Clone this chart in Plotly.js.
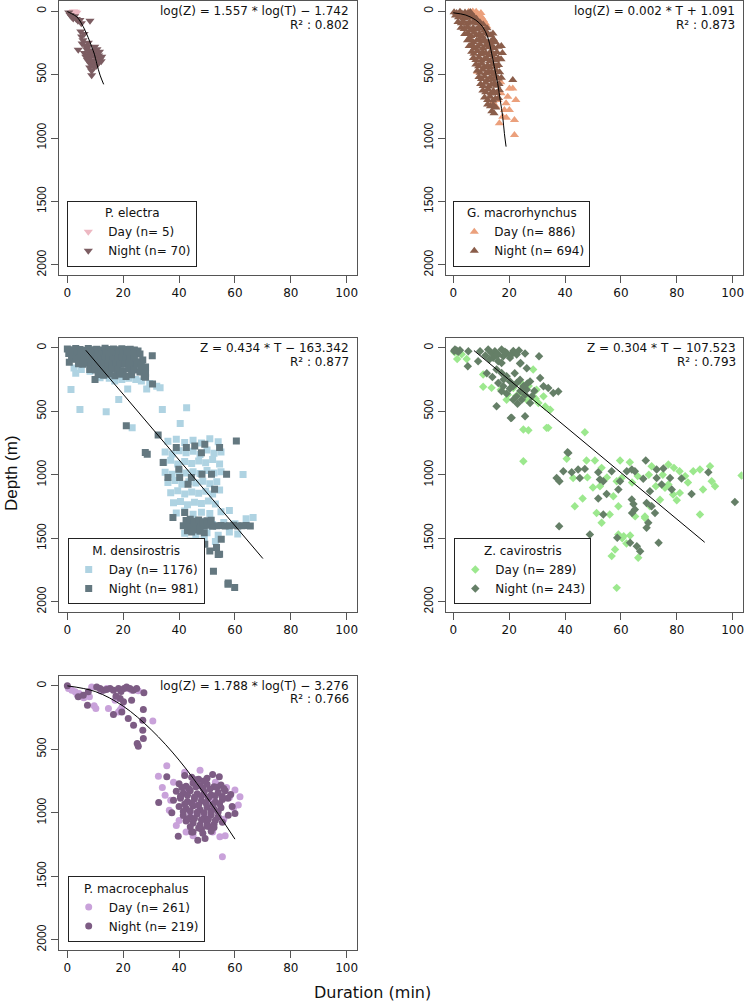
<!DOCTYPE html>
<html>
<head>
<meta charset="utf-8">
<script src="https://cdn.plot.ly/plotly-3.0.1.min.js"></script>
<style>html,body{margin:0;padding:0;background:#fff;}#chart{width:745px;height:1008px;}</style>
</head>
<body>
<div id="chart"></div>
<script>
// ---------- tick labels ----------
const xTicks = [0, 20, 40, 60, 80, 100];
const yTicks = [0, 500, 1000, 1500, 2000];

// ---------- P. electra ----------
const peDayT = [1.6, 2.2, 2.9, 3.4, 2.5];
const peDayZ = [8, 2, 4, 12, 22];
const peNightT = [0.5,1.0,1.5,2.1,2.6,3.2,3.8,4.5,5.0,8.1,4.8,5.1,5.6,6.0,5.3,3.9,6.4,6.9,7.3,6.1,7.0,7.6,8.1,8.5,9.0,9.4,9.9,10.3,10.8,11.2,11.7,12.1,7.8,8.4,9.1,9.7,10.4,8.0,8.7,9.5,8.7,11.0,6.6,7.2,10.6,11.5,12.3,9.8,7.5];
const peNightZ = [10,30,45,58,40,62,75,70,95,75,160,200,230,180,255,305,270,300,280,330,350,320,370,340,310,330,360,340,375,350,380,395,400,420,390,415,430,445,470,440,505,410,360,385,300,320,360,280,250];
const peFitT = [0, 1.5, 3.4, 5, 6.3, 7.5, 8.7, 9.7, 10.5, 11.7, 13.0];
const peFitZ = [3, 20, 45, 95, 150, 210, 281, 340, 412, 504, 577];

// ---------- G. macrorhynchus ----------
const gmDayT = [5.5,6.8,7.9,8.9,9.6,10.2,10.8,11.5,8.2,9.9,12.0,7.0,8.7,21.3,22.4,19.5,20.1,17.7,16.5,21.9,21.9,18.3,18.9,17.1,15.3,20.1,16.0,19.0,14.2,17.0];
const gmDayZ = [5,10,15,25,35,50,70,95,5,15,120,3,478,609,701,675,780,832,884,858,976,780,727,648,753,609,700,840,720,560];
const gmNightT = [0.3,1.2,2.4,3.1,4.2,5.3,6.1,
  0.8,1.9,2.7,3.8,4.6,5.7,6.6,7.4,8.3,
  1.7,2.9,3.6,4.9,5.8,6.9,7.7,8.8,9.6,10.7,
  2.8,3.9,5.1,6.2,7.1,8.2,9.1,10.2,11.3,12.1,
  4.1,5.2,6.3,7.4,8.3,9.4,10.3,11.4,12.6,13.4,14.2,
  5.1,6.3,7.2,8.4,9.3,10.4,11.2,12.3,13.6,14.4,15.1,
  5.7,6.8,7.6,8.7,9.6,10.6,11.7,12.8,13.7,14.6,16.1,17.2,
  6.6,7.4,8.6,9.7,10.5,11.6,12.7,13.4,14.5,15.6,17.6,
  7.2,8.1,9.2,10.1,11.2,12.2,13.1,14.3,15.2,16.1,17.1,
  8.1,9.1,10.2,11.1,12.3,13.2,14.1,15.3,16.2,
  8.6,9.6,10.6,11.7,12.6,13.7,14.6,15.4,16.6,
  9.2,10.1,11.2,12.1,13.2,14.1,15.2,16.1,17.2,21.3,
  9.8,10.7,11.6,12.7,13.6,14.7,15.6,16.4,
  10.6,11.6,12.5,13.5,14.4,15.5,16.5,
  11.2,12.3,13.2,14.2,15.1,16.2,
  12.3,13.3,14.3,15.2,13.8,14.6];
const gmNightZ = [8,15,5,18,10,14,6,
  35,48,30,55,40,52,38,45,60,
  85,95,80,100,88,92,84,97,90,105,
  130,140,125,148,132,145,128,138,150,135,
  180,175,195,170,188,178,198,172,185,190,176,
  230,225,245,232,220,240,228,250,235,222,245,
  275,268,290,280,262,295,272,285,270,290,280,275,
  320,335,315,340,325,330,345,318,338,325,330,
  370,385,365,392,375,380,395,368,388,372,380,
  420,435,415,440,428,445,418,432,425,
  470,485,462,490,475,480,495,468,482,
  520,535,515,545,525,540,518,530,525,543,
  575,590,565,595,580,570,588,575,
  625,640,618,650,630,645,622,
  680,700,675,705,690,685,
  735,750,740,760,790,805];
const gmFitT = [0, 4.5, 8.1, 10.5, 12.3, 13.5, 14.7, 15.9, 16.8, 17.7, 18.3, 18.9];
const gmFitZ = [13, 31, 71, 123, 202, 307, 438, 570, 701, 832, 963, 1068];

// ---------- M. densirostris ----------
const mdDayT = [2.4,1.3,4.5,13.9,18.4,21.6,23.2,28.4,32,33.2,34,42.7,40.4,11.7,8.1,15,17,19.5,22,24.5,26.5,5,3,13,29.5,
  36,39,42,45,48,51,54,
  35,37.5,40,42.5,45,47.5,50,52.5,55,
  34.5,37,39.5,42,44.5,47,49.5,52,54.5,
  35,37.5,40,42.5,45,47.5,50,52.5,55,62.9,
  36,38.5,41,43.5,46,48.5,51,53.5,
  37,39.5,42,44.5,47,49.5,52,54.5,
  38,40.5,43,45.5,48,50.5,53,
  39,42,45,48,51,55,58,
  43.5,48,52,56,60,64,66.5,
  42,46,50,54,58,61,
  44,49,53];
const mdDayZ = [158,328,486,503,407,323,630,323,302,315,486,472,596,236,184,240,260,250,240,250,260,170,200,220,280,
  735,720,745,728,750,715,740,
  820,835,810,825,815,840,805,830,820,
  900,885,915,895,910,890,905,880,915,
  980,995,970,985,975,990,965,985,975,997,
  1060,1045,1075,1055,1065,1050,1070,1055,
  1140,1125,1150,1135,1145,1130,1150,1120,
  1220,1210,1235,1215,1225,1205,1230,
  1300,1285,1310,1295,1305,1290,1280,
  1380,1370,1390,1375,1385,1345,1336,
  1460,1470,1455,1475,1450,1465,
  1520,1510,1525];
const mdNightT = [0,1.5,3,4.5,6,7.5,9,10.5,12,13.5,15,16.5,18,19.5,21,22.5,24,25.3,
  0.5,2,3.5,5,6.5,8,9.5,11,12.5,14,15.5,17,18.5,20,21.5,23,24.5,26,
  1.5,3,4.5,6,7.5,9,10.5,12,13.5,15,16.5,18,19.5,21,22.5,24,25.5,27,
  4,5.5,7,8.5,10,11.5,13,14.5,16,17.5,19,20.5,22,23.5,25,26.5,28,
  8,10,12,14,16,18,20,22,24,26,28,
  11,13,15,17,19,21,23,27.5,
  0.7,30.4,28,30.5,9.9,21.1,32.5,27.9,28.6,
  34.3,36.0,39.0,39.9,40.2,42.6,44.4,45.6,48.0,49.2,48.2,51.6,52.7,54.5,57.0,60.5,43.2,
  41.5,43,44.5,46,47.5,49,50.5,52,53.5,55,56.5,58,59.5,61,62.5,64,65.5,
  42.5,44,45.5,47,48.5,50,51.5,43,44.5,46,47.5,49,
  37.8,42.0,45.6,49.2,51,53.4,55.1,54.5,45.6,57.5,59.9,52.3,54.0,57.6];
const mdNightZ = [8,15,5,12,18,6,14,10,16,4,12,9,15,7,13,10,16,24,
  45,40,52,38,48,42,55,44,50,40,47,53,41,49,45,52,43,48,
  85,90,80,92,84,88,78,95,86,82,91,85,80,94,87,83,110,95,
  125,130,120,135,128,122,132,126,138,124,130,128,121,135,127,140,150,
  170,175,165,178,168,172,180,166,175,190,200,
  210,215,205,220,208,225,212,225,
  113,63,231,284,250,614,686,824,838,
  903,1021,785,956,1021,785,1021,772,825,759,995,995,1113,785,995,733,1074,
  1400,1395,1405,1398,1402,1400,1396,1404,1400,1398,1402,1400,1397,1403,1400,1398,1402,
  1360,1350,1365,1355,1370,1362,1358,1440,1450,1435,1445,1455,
  1336,1297,1533,1546,1599,1572,1507,1625,1704,1861,1888,1759,1627,1851];
const mdFitT = [6.6, 70];
const mdFitZ = [19, 1659];

// ---------- Z. cavirostris ----------
const zcDayT = [1.4,4.8,10.7,10.7,13.7,19.1,25.1,28.6,34.0,25.1,47.1,21.5,23.9,26.3,28.6,30.5,32.9,34.7,32.3,29.8,27.0,24.5,26.9,33.4,0.5,3.0,17.0,19.5,22.5,25.5,29.5,
  40.6,47.7,50.7,53.1,59.7,63.2,71.0,77.0,79.0,81.0,85.9,88.3,91.9,92.5,93.7,103.2,89.4,88.3,78.7,81.1,75.8,72.5,58.5,60.3,46.3,43.5,56.0,59.1,53.1,68.6,59.1,61.0,63.3,60.5,62.0,57.9,56.7,58.5,42.9,52.5,57.3,66.0,70.0,75.0,83.0,84.0,77.0,80.0,74.0,70.4,68.6,65.1,50.0,48.0,55.0,64.0,66.2,51.3];
const zcDayZ = [87,87,210,307,315,408,643,171,630,893,664,316,356,408,382,435,461,487,382,330,300,280,648,630,35,50,330,370,380,380,400,
  874,887,887,945,887,900,932,919,945,971,971,958,932,1050,1089,1005,1115,1312,1155,1142,1102,1090,1050,1024,1186,1247,1312,1247,1378,1339,1470,1483,1478,1500,1540,1588,1640,1890,1024,1089,1168,1010,1000,1000,1010,1060,1076,1200,1196,1248,1327,1327,1100,1020,1020,1060,1653,1301];
const zcNightT = [0.6,1.2,2.4,1.8,0.3,5.4,9.6,12.5,13.7,14.9,16.1,17.3,17.9,19.1,20.3,22.7,25.7,16.1,14.3,17.3,11.5,13.0,15.5,18.5,21.5,20.5,23.5,
  15.5,17.3,19.1,20.3,22.7,23.9,25.1,26.3,27.5,17.9,16.1,20.3,22.7,24.5,25.7,28.1,21.5,17.3,19.1,27.5,24.1,26.3,31.1,32.3,34.0,35.8,37.6,30.7,23.9,5.2,8.9,15.5,20.6,25.7,20.9,14.0,18.0,21.5,24.0,26.5,29.0,22.0,12.0,23.0,
  41.2,37.0,38.0,39.4,42.4,44.7,45.3,47.1,51.9,52.5,53.7,51.9,54.9,59.1,56.7,62.1,63.9,65.0,68.9,68.0,72.8,75.2,72.8,70.4,74.6,77.6,78.2,81.7,85.3,91.3,100.8,59.7,63.9,64.5,65.0,64.0,69.2,71.0,72.2,69.8,69.2,53.7,37.9,48.9,58.7,63.3,65.7,66.9,73.5,44.1,40.9];
const zcNightZ = [13,20,19,30,25,27,27,13,40,27,53,13,66,40,79,53,45,106,79,119,60,90,55,30,25,60,20,
  171,198,224,264,277,251,303,329,264,303,277,320,382,408,369,382,408,342,360,435,119,160,238,303,316,356,343,66,124,145,106,460,552,539,551,230,250,300,340,280,340,200,200,440,
  827,1024,1050,971,979,958,1024,953,979,1037,1050,1186,1150,1115,971,971,958,971,887,1031,958,950,1024,1129,1076,1024,1115,1029,1150,979,1213,1050,1194,1230,1273,1300,1221,1247,1300,1378,1417,1312,1404,1470,1496,1535,1562,1601,1535,1601,822];
const zcFitT = [7.4, 90];
const zcFitZ = [21, 1531];

// ---------- P. macrocephalus ----------
const pmDayT = [0.4,1.6,2.8,4.2,5.9,7.9,9.6,10.2,14.1,14.7,18.9,17.1,21.8,23.0,25.4,30.6,18.3,19.5,8.7,3.5,12.0,
  35.6,32.6,35.0,61.8,61.2,55.5,42.5,54.6,47.5,38.0,36.5,40.0,58.0,59.5,56.0,45.0,52.0,43.0,48.0,37.0,60.0,57.0,34.0,39.0,50.0,53.0,42.0,56.5,46.0,44.0,51.0,49.0];
const pmDayZ = [21,34,47,60,94,86,157,178,21,178,191,113,21,34,39,276,205,171,8,70,40,
  630,712,861,874,939,1346,1150,1189,664,760,980,1060,880,960,1050,1180,1150,820,870,900,820,800,800,1100,1080,760,680,1180,940,1000,900,1020];
const pmNightT = [0,3.9,7.2,10.5,11.7,15.3,16.5,18.3,19.2,20.3,23.6,24.8,27.4,16.5,20.1,23.0,21.8,23.7,27.2,27.0,27.0,27.2,25.0,25.4,5.7,7.5,12.9,14.0,18.9,19.5,21.2,22.4,17.4,
  42,44.5,47,52,54.4,50,
  40,42.5,45,47.5,50,52.5,55,
  39,41.5,44,46.5,49,51.5,54,56.5,58.5,
  38,40.5,43,45.5,48,50.5,53,55.5,57.5,32.7,
  40,42.5,45,47.5,50,52.5,55,59,
  37.4,41.5,44,46.5,49,51.5,54,57.6,60,
  42.5,45,47.5,50,52.5,55.5,
  39.7,46.7,49.3,51,44.5,48,35.6,
  41,43.5,46,48.5,51,53.5,56,
  40.5,43,45.5,48,50.5,53,55.5,
  42,44.5,47,49.5,52,54.5,
  41.5,44,46.5,49,51.5,54,
  43,45.5,48,50.5,53,
  44,47,50,52.5,
  45,48.5,51.5,
  46,49];
const pmNightZ = [0,86,152,8,21,21,34,21,45,21,34,21,55,226,126,113,257,310,186,270,349,414,454,475,73,47,34,28,100,205,8,21,81,
  705,720,735,698,716,728,
  770,790,765,785,775,795,780,
  830,845,825,850,835,860,840,825,855,
  900,885,910,890,905,880,915,895,885,918,
  950,965,945,975,955,970,960,950,
  1000,1020,1035,1010,1040,1015,1030,1018,1005,
  1065,1080,1095,1070,1090,1075,
  1184,1215,1202,1110,1150,1130,716,
  800,810,795,805,812,798,808,
  870,862,875,868,880,865,872,
  930,925,938,920,935,928,
  990,985,995,1000,988,992,
  1050,1045,1055,1048,1058,
  1110,1120,1105,1115,
  1150,1160,1145,
  740,750];
const pmFitT = [0, 10, 20, 30, 40, 50, 60];
const pmFitZ = [0, 45, 160, 345, 585, 880, 1207];

// ---------- panel definitions ----------
const panels = [
  {name:'P. electra', sym:'triangle-down', size:8,
   day:[peDayT,peDayZ], night:[peNightT,peNightZ], fit:[peFitT,peFitZ],
   dayCol:'#EDB8C2', nightCol:'#7C5D62', dayN:5, nightN:70,
   eq:'log(Z) = 1.557 * log(T) − 1.742', r2:'R² : 0.802'},
  {name:'G. macrorhynchus', sym:'triangle-up', size:8,
   day:[gmDayT,gmDayZ], night:[gmNightT,gmNightZ], fit:[gmFitT,gmFitZ],
   dayCol:'#EBA07C', nightCol:'#8A5D4A', dayN:886, nightN:694,
   eq:'log(Z) = 0.002 * T + 1.091', r2:'R² : 0.873'},
  {name:'M. densirostris', sym:'square', size:7,
   day:[mdDayT,mdDayZ], night:[mdNightT,mdNightZ], fit:[mdFitT,mdFitZ],
   dayCol:'#AFD3E2', nightCol:'#647880', dayN:1176, nightN:981,
   eq:'Z = 0.434 * T − 163.342', r2:'R² : 0.877'},
  {name:'Z. cavirostris', sym:'diamond', size:6.5,
   day:[zcDayT,zcDayZ], night:[zcNightT,zcNightZ], fit:[zcFitT,zcFitZ],
   dayCol:'#9CE88E', nightCol:'#657F67', dayN:289, nightN:243,
   eq:'Z = 0.304 * T − 107.523', r2:'R² : 0.793'},
  {name:'P. macrocephalus', sym:'circle', size:7,
   day:[pmDayT,pmDayZ], night:[pmNightT,pmNightZ], fit:[pmFitT,pmFitZ],
   dayCol:'#C9A2DA', nightCol:'#7D5C84', dayN:261, nightN:219,
   eq:'log(Z) = 1.788 * log(T) − 3.276', r2:'R² : 0.766'}
];

// layout geometry (pixels in a 745 x 1008 figure)
const W = 745, H = 1008;
const boxes = [
  {x0:58.7, x1:357.3, y0:1,     y1:275,   xr:[-3.1,103.8]},
  {x0:446,  x1:742.7, y0:1,     y1:275,   xr:[-2.6,103.6]},
  {x0:58.7, x1:357.3, y0:337.7, y1:612,   xr:[-3.1,103.8]},
  {x0:446,  x1:742.7, y0:337.7, y1:612,   xr:[-2.6,103.6]},
  {x0:58.7, x1:357.3, y0:675.7, y1:950,   xr:[-3.1,103.8]}
];
const eqPos = [
  {x:351, y1:11, y2:24.5}, {x:736.7, y1:11, y2:24.5},
  {x:351, y1:348.3, y2:361.8}, {x:737.7, y1:348.3, y2:361.8},
  {x:351, y1:685.7, y2:699.2}
];
const legPos = [
  {x:67.3, y:200.7}, {x:453.3, y:200.7}, {x:67.7, y:538.3}, {x:454.3, y:538.3}, {x:67.7, y:876}
];

const HFONT = 'DejaVu Sans, Liberation Sans, Arial, sans-serif';
const VFONT = 'Liberation Sans, Arial, sans-serif';

const traces = [];
const layout = {
  width: W, height: H, autosize: false,
  margin: {l:0, r:0, t:0, b:0, pad:0},
  paper_bgcolor: '#fff', plot_bgcolor: '#fff',
  showlegend: true,
  annotations: [],
  font: {family: HFONT, size: 12, color: '#111'}
};

panels.forEach((p, i) => {
  const k = i + 1;
  const xa = k === 1 ? 'x' : 'x' + k;
  const ya = k === 1 ? 'y' : 'y' + k;
  const legName = k === 1 ? 'legend' : 'legend' + k;
  traces.push({
    type:'scatter', mode:'markers', x:p.day[0], y:p.day[1], xaxis:xa, yaxis:ya,
    name:'Day (n= ' + p.dayN + ')', legend:legName,
    marker:{symbol:p.sym, size:p.size, color:p.dayCol, line:{width:0}},
    hoverinfo:'skip', cliponaxis:true
  });
  traces.push({
    type:'scatter', mode:'markers', x:p.night[0], y:p.night[1], xaxis:xa, yaxis:ya,
    name:'Night (n= ' + p.nightN + ')', legend:legName,
    marker:{symbol:p.sym, size:p.size, color:p.nightCol, line:{width:0}},
    hoverinfo:'skip', cliponaxis:true
  });
  traces.push({
    type:'scatter', mode:'lines', x:p.fit[0], y:p.fit[1], xaxis:xa, yaxis:ya,
    line:{color:'#000', width:1, shape: p.fit[0].length > 2 ? 'spline' : 'linear'},
    showlegend:false, hoverinfo:'skip'
  });

  const b = boxes[i];
  const axX = {
    domain:[b.x0 / W, b.x1 / W], range:b.xr, anchor:ya,
    tickmode:'array', tickvals:xTicks, ticktext:xTicks.map(String),
    ticks:'outside', ticklen:7, tickwidth:1, tickcolor:'#555',
    showline:true, mirror:true, linecolor:'#555', linewidth:1,
    showgrid:false, zeroline:false, fixedrange:true,
    tickfont:{family:HFONT, size:12, color:'#111'}
  };
  const axY = {
    domain:[1 - b.y1 / H, 1 - b.y0 / H], range:[2080, -80], anchor:xa,
    tickmode:'array', tickvals:yTicks, ticktext:yTicks.map(String),
    ticks:'outside', ticklen:7, tickwidth:1, tickcolor:'#555', tickangle:-90,
    showline:true, mirror:true, linecolor:'#555', linewidth:1,
    showgrid:false, zeroline:false, fixedrange:true,
    tickfont:{family:VFONT, size:12, color:'#111'}
  };
  layout[k === 1 ? 'xaxis' : 'xaxis' + k] = axX;
  layout[k === 1 ? 'yaxis' : 'yaxis' + k] = axY;

  const lp = legPos[i];
  layout[legName] = {
    x: lp.x / W, y: 1 - lp.y / H, xanchor:'left', yanchor:'top',
    xref:'paper', yref:'paper',
    bgcolor:'#fff', bordercolor:'#222', borderwidth:1,
    font:{family:HFONT, size:12, color:'#111'},
    title:{text:p.name, side:'top center', font:{family:HFONT, size:12, color:'#111'}},
    traceorder:'normal', itemclick:false, itemdoubleclick:false,
    tracegroupgap:0, itemwidth:30
  };

  const e = eqPos[i];
  layout.annotations.push({
    xref:'paper', yref:'paper', x:e.x / W, y:1 - e.y1 / H, xanchor:'right', yanchor:'middle',
    text:p.eq, showarrow:false, font:{family:HFONT, size:12, color:'#111'}
  });
  layout.annotations.push({
    xref:'paper', yref:'paper', x:e.x / W, y:1 - e.y2 / H, xanchor:'right', yanchor:'middle',
    text:p.r2, showarrow:false, font:{family:HFONT, size:12, color:'#111'}
  });
});

// shared axis titles
layout.annotations.push({
  xref:'paper', yref:'paper', x:372 / W, y:1 - 992 / H, xanchor:'center', yanchor:'middle',
  text:'Duration (min)', showarrow:false, font:{family:HFONT, size:16, color:'#111'}
});
layout.annotations.push({
  xref:'paper', yref:'paper', x:11 / W, y:1 - 473 / H, xanchor:'center', yanchor:'middle',
  text:'Depth (m)', textangle:-90, showarrow:false, font:{family:VFONT, size:17, color:'#111'}
});

Plotly.newPlot('chart', traces, layout, {staticPlot:true, displayModeBar:false});
</script>
</body>
</html>
